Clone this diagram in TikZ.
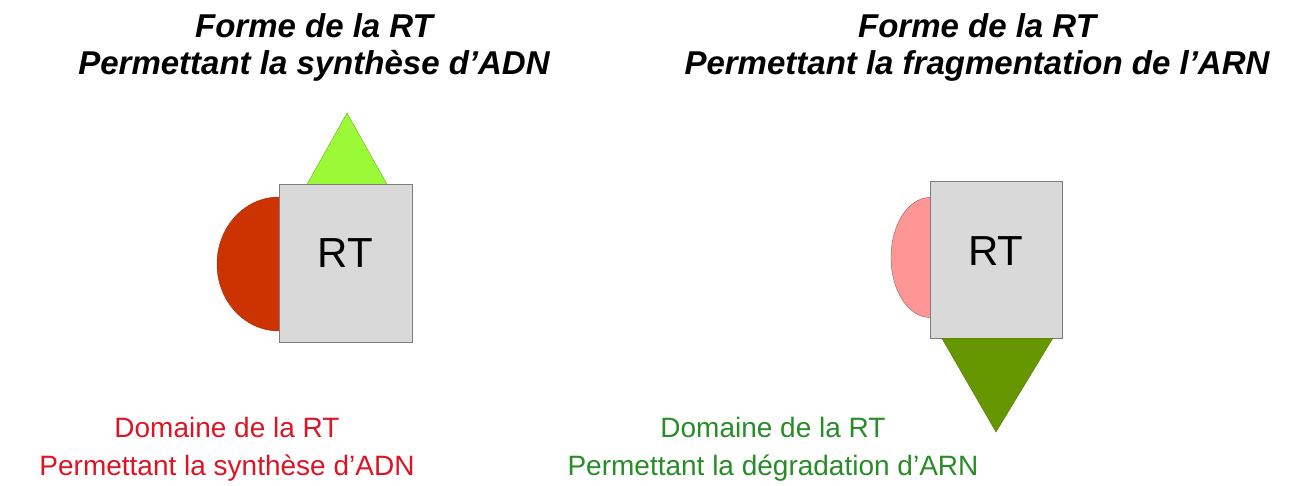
\documentclass[tikz,border=0pt]{standalone}
\usepackage{fontspec}
\setmainfont{Liberation Sans}
\usetikzlibrary{positioning}

\definecolor{gris}{RGB}{217,217,217}
\definecolor{grisbord}{RGB}{125,125,125}
\definecolor{vertclair}{RGB}{155,250,55}
\definecolor{vertfonce}{RGB}{102,150,0}
\definecolor{brique}{RGB}{204,51,0}
\definecolor{rose}{RGB}{255,150,150}
\definecolor{texterouge}{RGB}{222,20,36}
\definecolor{texteverte}{RGB}{40,140,40}

\begin{document}
\begin{tikzpicture}[x=1pt, y=-1pt,
    boite/.style={draw=grisbord, fill=gris, minimum width=133pt, minimum height=158pt, inner sep=0pt},
    sigle/.style={font=\fontsize{42}{42}\selectfont},
    titre/.style={align=center, font=\fontsize{33}{37}\selectfont\bfseries\itshape},
    legende/.style={align=center, font=\fontsize{28}{38}\selectfont}]
  \useasboundingbox (0,0) rectangle (1292,486);

  % forme de gauche : synthese d'ADN
  \draw[fill=brique, draw=brique!80!black] (279,264) ellipse [x radius=62, y radius=67];
  \draw[fill=vertclair, draw=vertclair!70!black] (306,186) -- (388,186) -- (347,113) -- cycle;
  \node[boite] (carre1) at (345.5,263) {};
  \node[sigle] (rt1) at ([yshift=10pt]carre1.center) {RT};

  % forme de droite : fragmentation de l'ARN
  \draw[fill=rose, draw=rose!60!black] (930,257.5) ellipse [x radius=39, y radius=60];
  \node[boite, minimum width=132pt, minimum height=157pt] (carre2) at (996,259.5) {};
  \draw[fill=vertfonce, draw=vertfonce!80!black] (carre2.south west) ++(12,0) -- ++(111,0) -- (996,432) -- cycle;
  \node[sigle] (rt2) at ([yshift=8pt]carre2.center) {RT};

  % titres
  \node[titre] (t1) at (314,47) {Forme de la RT\\Permettant la synthèse d’ADN};
  \node[titre] (t2) at (977,47) {Forme de la RT\\Permettant la fragmentation de l’ARN};

  % legendes
  \node[legende, text=texterouge] (l1) at (227,449) {Domaine de la RT\\Permettant la synthèse d’ADN};
  \node[legende, text=texteverte] (l2) at (773,449) {Domaine de la RT\\Permettant la dégradation d’ARN};
\end{tikzpicture}
\end{document}
